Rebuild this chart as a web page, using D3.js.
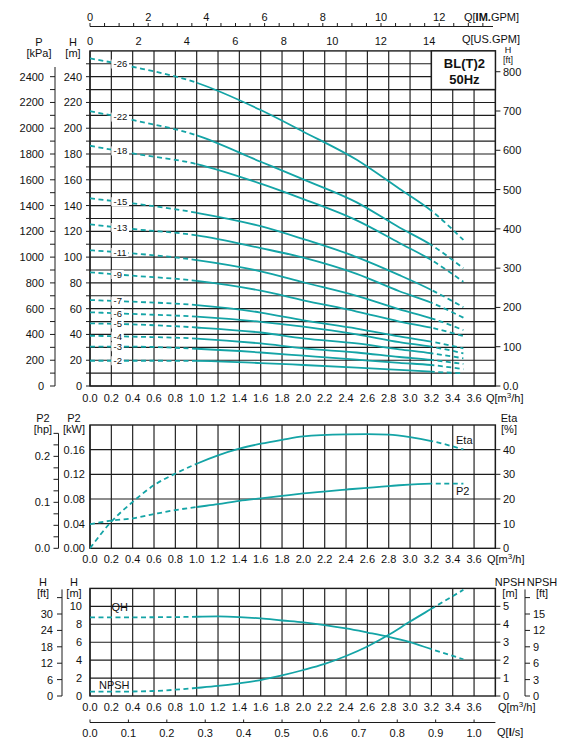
<!DOCTYPE html>
<html>
<head>
<meta charset="utf-8">
<script src="https://cdn.jsdelivr.net/npm/d3@7"></script>
<style>
body { margin: 0; background: #fff; }
text { font-family: "Liberation Sans", Arial, sans-serif; font-size: 11px; fill: #111; }
</style>
</head>
<body>
<div id="chart-area"></div>
<script>
// ---- data ----
var flowTicks = [0.0, 0.2, 0.4, 0.6, 0.8, 1.0, 1.2, 1.4, 1.6, 1.8, 2.0, 2.2, 2.4, 2.6, 2.8, 3.0, 3.2, 3.4, 3.6];
var usGpmTicks = [0, 2, 4, 6, 8, 10, 12, 14];
var imGpmTicks = [0, 2, 4, 6, 8, 10, 12];
var lsTicks = [0.0, 0.1, 0.2, 0.3, 0.4, 0.5, 0.6, 0.7, 0.8, 0.9, 1.0];

// top panel: head per stage count
var headQ = [0, 0.4, 1.0, 1.6, 2.0, 2.5, 2.9, 3.2, 3.5];
var stageNames = ["-26", "-22", "-18", "-15", "-13", "-11", "-9", "-7", "-6", "-5", "-4", "-3", "-2"];
var head26 = [254.2, 247.7, 235.3, 214.1, 197.3, 175.5, 153.0, 136.0, 113.3];
var head22 = [213.3, 206.4, 194.5, 174.0, 160.3, 142.5, 123.0, 109.4, 91.3];
var head18 = [186.4, 180.5, 172.2, 157.0, 145.0, 128.5, 111.0, 97.7, 80.9];
var head15 = [145.6, 141.7, 134.4, 124.0, 114.0, 100.0, 86.0, 74.5, 61.1];
var head13 = [125.4, 121.8, 116.9, 107.0, 99.6, 87.0, 73.5, 64.6, 53.0];
var head11 = [105.3, 102.9, 97.7, 89.0, 80.5, 70.0, 59.5, 52.5, 43.4];
var head9  = [88.2, 85.6, 81.6, 74.0, 66.5, 57.8, 50.0, 45.2, 38.8];
var head7  = [66.7, 65.4, 62.8, 57.0, 51.0, 44.6, 38.5, 34.4, 29.2];
var head6  = [57.2, 55.9, 53.8, 49.8, 46.0, 40.0, 34.0, 30.5, 25.4];
var head5  = [48.6, 47.8, 45.4, 41.5, 37.0, 33.0, 28.5, 25.4, 21.5];
var head4  = [39.0, 38.3, 36.8, 33.0, 29.2, 26.0, 22.5, 20.2, 17.1];
var head3  = [30.5, 30.5, 28.9, 26.0, 23.5, 20.4, 18.0, 16.3, 13.0];
var head2  = [19.6, 19.6, 19.5, 17.8, 16.3, 14.3, 12.5, 11.1, 9.8];
var stageHeads = [head26, head22, head18, head15, head13, head11, head9, head7, head6, head5, head4, head3, head2];

var kPaTicks = d3.range(0, 2401, 200);
var headTicks = d3.range(0, 241, 20);
var ftTicks = [0, 100, 200, 300, 400, 500, 600, 700, 800];

// middle panel: efficiency and power
var etaQ = [0, 0.2, 0.4, 0.6, 0.8, 1.0, 1.2, 1.4, 1.6, 1.8, 2.0, 2.4, 2.6, 2.8, 3.0, 3.2, 3.5];
var etaValues = [0, 10.8, 18.8, 25.6, 30.3, 34.3, 37.7, 40.4, 42.4, 44.0, 45.4, 46.2, 46.3, 46.1, 45.1, 43.5, 40.1];
var p2Q = [0, 0.2, 0.4, 0.6, 0.8, 1.0, 1.2, 1.4, 1.6, 1.8, 2.0, 2.4, 2.8, 3.2, 3.5];
var p2Values = [0.039, 0.045, 0.0485, 0.0555, 0.062, 0.067, 0.0716, 0.077, 0.081, 0.085, 0.089, 0.0953, 0.101, 0.105, 0.105];
var kwTicks = [0.00, 0.04, 0.08, 0.12, 0.16];
var hpTicks = [0.0, 0.1, 0.2];
var etaTicks = [0, 10, 20, 30, 40];

// bottom panel: single stage head and NPSH
var qhQ = [0, 0.8, 1.0, 1.2, 1.4, 1.6, 1.8, 2.0, 2.2, 2.4, 2.6, 2.8, 3.0, 3.2, 3.5];
var qhValues = [8.76, 8.8, 8.84, 8.87, 8.8, 8.65, 8.42, 8.2, 7.9, 7.53, 7.08, 6.6, 6.0, 5.22, 4.1];
var npshQ = [0, 0.4, 0.6, 0.8, 1.0, 1.2, 1.4, 1.6, 1.8, 2.0, 2.2, 2.4, 2.6, 2.8, 3.0, 3.2, 3.5];
var npshValues = [0.24, 0.25, 0.28, 0.35, 0.45, 0.56, 0.71, 0.89, 1.15, 1.45, 1.79, 2.23, 2.76, 3.41, 4.15, 4.86, 5.92];
var hmTicks = [0, 2, 4, 6, 8, 10];
var hftTicks = [0, 6, 12, 18, 24, 30];
var npshTicks = [0, 1, 2, 3, 4, 5];
var npshFtTicks = [0, 3, 6, 9, 12, 15];

// ---- layout ----
var W = 570, H = 750;
var lineColor = "#14a4a6", gridColor = "#1c1c1c";
var fmt1 = d3.format(".1f"), fmt2 = d3.format(".2f");

var svg = d3.select("#chart-area").append("svg")
    .attr("width", W)
    .attr("height", H);

var x = d3.scaleLinear().domain([0, 3.8]).range([90, 495.4]);

// top panel scales
var yTop = d3.scaleLinear().domain([0, 260]).range([386, 50.9]);
var yKpa = d3.scaleLinear().domain([0, 2600]).range([386, 50.9]);
var yTopFt = d3.scaleLinear().domain([0, 260 / 0.3048]).range([386, 50.9]);
// middle
var yKw = d3.scaleLinear().domain([0, 0.2]).range([548.3, 425]);
var yEta = d3.scaleLinear().domain([0, 50]).range([548.3, 425]);
var yHp = d3.scaleLinear().domain([0, 0.2 / 0.7457]).range([548.3, 425]);
// bottom
var yQh = d3.scaleLinear().domain([0, 12]).range([696, 588.4]);
var yNpsh = d3.scaleLinear().domain([0, 6]).range([696, 588.4]);
var yQhFt = d3.scaleLinear().domain([0, 12 / 0.3048]).range([696, 588.4]);
var yNpshFt = d3.scaleLinear().domain([0, 6 / 0.3048]).range([696, 588.4]);

// clip regions: dashed below 1.0, solid 1.0-3.2, dashed above 3.2
var defs = svg.append("defs");
[["clipA", 0, 1.0], ["clipB", 1.0, 3.2], ["clipC", 3.2, 3.8]].forEach(function(c) {
    defs.append("clipPath").attr("id", c[0])
        .append("rect")
        .attr("x", x(c[1])).attr("y", 0)
        .attr("width", x(c[2]) - x(c[1])).attr("height", H);
});

function drawGrid(yScale, rows) {
    var g = svg.append("g").attr("stroke", gridColor).attr("stroke-width", 1.15);
    d3.range(0, 20).forEach(function(i) {
        g.append("line")
            .attr("x1", x(i * 0.2)).attr("x2", x(i * 0.2))
            .attr("y1", yScale.range()[0]).attr("y2", yScale.range()[1]);
    });
    rows.forEach(function(v) {
        g.append("line")
            .attr("x1", x(0)).attr("x2", x(3.8))
            .attr("y1", yScale(v)).attr("y2", yScale(v));
    });
    g.append("rect")
        .attr("x", x(0)).attr("y", yScale.range()[1])
        .attr("width", x(3.8) - x(0))
        .attr("height", yScale.range()[0] - yScale.range()[1])
        .attr("fill", "none").attr("stroke-width", 1.4);
}

function drawCurve(qs, vs, yScale) {
    var pts = qs.map(function(q, i) { return [q, vs[i]]; });
    var line = d3.line()
        .x(function(d) { return x(d[0]); })
        .y(function(d) { return yScale(d[1]); })
        .curve(d3.curveMonotoneX);
    [["clipA", "5,3.5"], ["clipB", null], ["clipC", "5,3.5"]].forEach(function(c) {
        svg.append("path")
            .datum(pts)
            .attr("d", line)
            .attr("fill", "none")
            .attr("stroke", lineColor)
            .attr("stroke-width", 1.8)
            .attr("stroke-dasharray", c[1])
            .attr("clip-path", "url(#" + c[0] + ")");
    });
}

function flowLabels(yPos, labelX) {
    flowTicks.forEach(function(q) {
        svg.append("text")
            .attr("x", x(q)).attr("y", yPos)
            .attr("text-anchor", "middle")
            .text(fmt1(q));
    });
    var t = svg.append("text").attr("x", labelX).attr("y", yPos);
    t.append("tspan").text("Q[m");
    t.append("tspan").attr("font-size", "8px").attr("dy", -4).text("3");
    t.append("tspan").attr("dy", 4).text("/h]");
}

function vTicks(xPos, yScale, values, len) {
    var g = svg.append("g").attr("stroke", gridColor).attr("stroke-width", 1);
    values.forEach(function(v) {
        g.append("line")
            .attr("x1", xPos).attr("x2", xPos + len)
            .attr("y1", yScale(v)).attr("y2", yScale(v));
    });
}

function vLabels(xPos, yScale, values, anchor, format) {
    values.forEach(function(v) {
        svg.append("text")
            .attr("x", xPos).attr("y", yScale(v) + 4)
            .attr("text-anchor", anchor)
            .text(format ? format(v) : v);
    });
}

function title(xPos, yPos, a, b, size, gap) {
    svg.append("text").attr("x", xPos).attr("y", yPos).attr("text-anchor", "middle")
        .style("font-size", size || "11px").text(a);
    svg.append("text").attr("x", xPos).attr("y", yPos + (gap || 11)).attr("text-anchor", "middle")
        .style("font-size", size || "11px").text(b);
}

// ================= TOP PANEL =================
drawGrid(yTop, d3.range(0, 260, 10));

// Box with model name
svg.append("rect")
    .attr("x", x(3.2)).attr("y", yTop(260))
    .attr("width", x(3.8) - x(3.2)).attr("height", yTop(230) - yTop(260))
    .attr("fill", "#fff").attr("stroke", gridColor).attr("stroke-width", 1.4);
svg.append("text").attr("x", (x(3.2) + x(3.8)) / 2 + 1).attr("y", 68)
    .attr("text-anchor", "middle").attr("font-weight", "bold").style("font-size", "13px")
    .text("BL(T)2");
svg.append("text").attr("x", (x(3.2) + x(3.8)) / 2 + 1).attr("y", 84)
    .attr("text-anchor", "middle").attr("font-weight", "bold").style("font-size", "13px")
    .text("50Hz");

// stage curves
stageHeads.forEach(function(vals) { drawCurve(headQ, vals, yTop); });

// stage labels with white backing
stageHeads.forEach(function(vals, i) {
    var yv = vals[0] + (vals[1] - vals[0]) * (0.27 / 0.4);
    var lab = svg.append("text")
        .attr("x", x(0.22)).attr("y", yTop(yv) + 3.3)
        .style("font-size", "9.5px")
        .text(stageNames[i]);
    var w = lab.node().getComputedTextLength();
    svg.insert("rect", function() { return lab.node(); })
        .attr("x", x(0.2)).attr("y", yTop(yv) - 4.5)
        .attr("width", w + 4).attr("height", 9)
        .attr("fill", "#fff");
});

// left P axis
svg.append("line").attr("x1", 55).attr("x2", 55)
    .attr("y1", yKpa(0)).attr("y2", yKpa(2475))
    .attr("stroke", gridColor);
vTicks(55, yKpa, d3.range(0, 2401, 100), -5);
vLabels(44, yKpa, kPaTicks, "end");
title(39, 45.5, "P", "[kPa]");

// left H [m] axis
vTicks(90, yTop, d3.range(0, 251, 10), -4);
vLabels(82, yTop, headTicks, "end");
title(73, 45.5, "H", "[m]");

// right H [ft] axis
vTicks(x(3.8), yTopFt, ftTicks, 5);
vLabels(503, yTopFt, ftTicks, "start", function(v) { return v === 0 ? "0.0" : v; });
title(508, 52.5, "H", "[ft]", "9px", 10.5);

// bottom flow labels
flowLabels(402, 486);

// US GPM labels
usGpmTicks.forEach(function(v) {
    svg.append("text").attr("x", x(v / 4.403)).attr("y", 45)
        .attr("text-anchor", "middle").text(v);
});
svg.append("text").attr("x", 520).attr("y", 42.5).attr("text-anchor", "end")
    .text("Q[US.GPM]");

// IM GPM axis
svg.append("line").attr("x1", x(0)).attr("x2", 493)
    .attr("y1", 26.5).attr("y2", 26.5).attr("stroke", gridColor);
d3.range(0, 13.6, 0.5).forEach(function(v) {
    svg.append("line").attr("x1", x(v / 3.666)).attr("x2", x(v / 3.666))
        .attr("y1", 26.5).attr("y2", 23).attr("stroke", gridColor);
});
imGpmTicks.forEach(function(v) {
    svg.append("text").attr("x", x(v / 3.666)).attr("y", 20.5)
        .attr("text-anchor", "middle").text(v);
});
var im = svg.append("text").attr("x", 519).attr("y", 20.5).attr("text-anchor", "end");
im.append("tspan").text("Q[");
im.append("tspan").attr("font-weight", "bold").text("IM.");
im.append("tspan").text("GPM]");

// ================= MIDDLE PANEL =================
drawGrid(yKw, [0.04, 0.08, 0.12, 0.16]);
drawCurve(etaQ, etaValues, yEta);
drawCurve(p2Q, p2Values, yKw);

svg.append("text").attr("x", 456).attr("y", 444).text("Eta");
svg.append("text").attr("x", 456).attr("y", 495).text("P2");

// hp axis
svg.append("line").attr("x1", 58.5).attr("x2", 58.5)
    .attr("y1", yHp(0)).attr("y2", yHp(0.25)).attr("stroke", gridColor);
vTicks(58.5, yHp, d3.range(0, 0.251, 0.025), -5);
vLabels(50, yHp, hpTicks, "end", fmt1);
title(43, 422, "P2", "[hp]");

// kW labels
vLabels(85, yKw, kwTicks, "end", fmt2);
title(74, 422, "P2", "[kW]");

// Eta axis
vTicks(x(3.8), yEta, etaTicks, 5);
vLabels(503, yEta, etaTicks, "start");
title(509, 422, "Eta", "[%]");

flowLabels(563, 487);

// ================= BOTTOM PANEL =================
drawGrid(yQh, [2, 4, 6, 8, 10]);
drawCurve(qhQ, qhValues, yQh);
drawCurve(npshQ, npshValues, yNpsh);

svg.append("text").attr("x", 111.5).attr("y", 611).text("QH");
svg.append("text").attr("x", 99).attr("y", 689).text("NPSH");

// H ft axis
svg.append("line").attr("x1", 62).attr("x2", 62)
    .attr("y1", yQhFt(0)).attr("y2", yQhFt(39)).attr("stroke", gridColor);
vTicks(62, yQhFt, [0, 6, 12, 18, 24, 30, 36], -5);
vLabels(53, yQhFt, hftTicks, "end");
title(43, 585.5, "H", "[ft]");

// H m labels
vLabels(82, yQh, hmTicks, "end");
title(74, 585.5, "H", "[m]");

// NPSH m axis
vTicks(x(3.8), yNpsh, npshTicks, 5);
vLabels(503, yNpsh, npshTicks, "start");
title(510, 585.5, "NPSH", "[m]");

// NPSH ft axis
svg.append("line").attr("x1", 525).attr("x2", 525)
    .attr("y1", yNpshFt(0)).attr("y2", yNpshFt(19.5)).attr("stroke", gridColor);
vTicks(525, yNpshFt, [0, 3, 6, 9, 12, 15, 18], 5);
vLabels(533, yNpshFt, npshFtTicks, "start");
title(542, 585.5, "NPSH", "[ft]");

flowLabels(710.5, 498);

// l/s axis
svg.append("line").attr("x1", x(0)).attr("x2", x(3.8))
    .attr("y1", 722.5).attr("y2", 722.5).attr("stroke", gridColor);
lsTicks.forEach(function(v) {
    svg.append("line").attr("x1", x(v * 3.6)).attr("x2", x(v * 3.6))
        .attr("y1", 722.5).attr("y2", 719.5).attr("stroke", gridColor);
    svg.append("text").attr("x", x(v * 3.6)).attr("y", 737)
        .attr("text-anchor", "middle").text(fmt1(v));
});
var ls = svg.append("text").attr("x", 497).attr("y", 735.5);
ls.append("tspan").text("Q[");
ls.append("tspan").attr("font-weight", "bold").text("l");
ls.append("tspan").text("/s]");
</script>
</body>
</html>
